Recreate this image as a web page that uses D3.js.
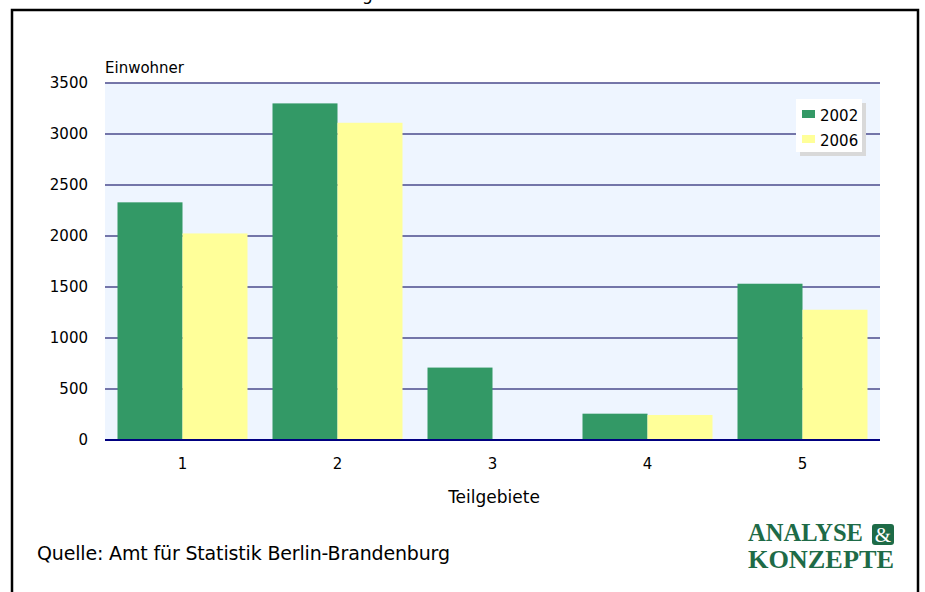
<!DOCTYPE html>
<html><head><meta charset="utf-8">
<script src="https://cdn.jsdelivr.net/npm/d3@7"></script>
<style>
html,body{margin:0;padding:0;background:#fff;}
svg{display:block;}
</style></head>
<body>
<svg id="chart" width="925" height="592"></svg>
<script>
const categories = ["1","2","3","4","5"];
const seriesNames = ["2002","2006"];
const values2002 = [2330, 3300, 710, 258, 1532];
const values2006 = [2025, 3110, 0, 245, 1277];
const yTicks = [0,500,1000,1500,2000,2500,3000,3500];
const colors = ["#339966","#ffff99"];

const FONT = "'DejaVu Sans',Verdana,sans-serif";
const svg = d3.select("#chart").style("font-family", FONT);
const m = {left:105, right:880, top:83, bottom:440};

// outer frame
svg.append("path").attr("d","M12,600 V10 H918 V600")
  .attr("fill","none").attr("stroke","#000").attr("stroke-width",2.5);

// cut-off title fragment
svg.append("text").attr("x",362).attr("y",0).style("font-size","17px").attr("fill","#000").text("g");

const x = d3.scaleBand().domain(categories).range([m.left,m.right]).paddingInner(25/155).paddingOuter(12.5/155);
const xs = d3.scaleBand().domain(seriesNames).range([0,x.bandwidth()]);
const y = d3.scaleLinear().domain([0,3500]).range([m.bottom,m.top]);

svg.append("rect").attr("x",m.left).attr("y",m.top).attr("width",m.right-m.left).attr("height",m.bottom-m.top).attr("fill","#eef5ff");

// gridlines
svg.append("g").selectAll("line").data(yTicks.filter(d=>d>0)).join("line")
  .attr("x1",m.left).attr("x2",m.right).attr("y1",d=>y(d)).attr("y2",d=>y(d))
  .attr("stroke","#4a4a8c").attr("stroke-width",1.6);

// bars
const data = categories.map((c,i)=>({c, v:[values2002[i], values2006[i]]}));
const grp = svg.append("g").selectAll("g").data(data).join("g")
  .attr("transform",d=>`translate(${x(d.c)},0)`);
grp.selectAll("rect").data(d=>d.v.map((v,j)=>({v,s:seriesNames[j],j}))).join("rect")
  .attr("x",d=>xs(d.s)).attr("width",xs.bandwidth())
  .attr("y",d=>y(d.v)).attr("height",d=>Math.max(0,y(0)-1-y(d.v)))
  .attr("fill",d=>colors[d.j]);

// zero axis line
svg.append("line").attr("x1",m.left).attr("x2",m.right).attr("y1",y(0)).attr("y2",y(0))
  .attr("stroke","#000080").attr("stroke-width",2);

// y axis labels
const yAxis = d3.axisLeft(y).tickValues(yTicks).tickFormat(d3.format("d")).tickSize(0).tickPadding(17);
const gy = svg.append("g").attr("transform",`translate(${m.left},0)`).call(yAxis);
gy.select(".domain").remove();
gy.selectAll("text").style("font-size","15px").style("font-family",FONT).attr("fill","#000");

// x axis labels
const xAxis = d3.axisBottom(x).tickSize(0).tickPadding(18);
const gx = svg.append("g").attr("transform",`translate(0,${m.bottom})`).call(xAxis);
gx.select(".domain").remove();
gx.selectAll("text").style("font-size","15px").style("font-family",FONT).attr("fill","#000");

svg.append("text").attr("x",105).attr("y",73).style("font-size","15px").text("Einwohner");
svg.append("text").attr("x",494).attr("y",503).attr("text-anchor","middle").style("font-size","17px").text("Teilgebiete");
svg.append("text").attr("x",37).attr("y",560).style("font-size","19px").attr("textLength",413).text("Quelle: Amt für Statistik Berlin-Brandenburg");

// legend
const lg = svg.append("g").attr("transform","translate(796,99)");
lg.append("rect").attr("x",4).attr("y",4).attr("width",66).attr("height",53).attr("fill","#d9d9d9");
lg.append("rect").attr("x",0).attr("y",0).attr("width",66).attr("height",53).attr("fill","#fff");
const li = lg.selectAll("g.item").data(seriesNames).join("g").attr("class","item")
  .attr("transform",(d,i)=>`translate(6,${12+i*25})`);
li.append("rect").attr("width",13).attr("height",8).attr("y",-1).attr("fill",(d,i)=>colors[i]);
li.append("text").attr("x",18).attr("y",10).style("font-size","15px").text(d=>d);

// logo
const logoColor = "#1e6b47";
const SERIF = "'Liberation Serif','Times New Roman',serif";
const lgo = svg.append("g");
lgo.append("text").attr("x",748).attr("y",541).style("font-family",SERIF).style("font-weight","bold")
  .style("font-size","26px").attr("fill",logoColor).attr("textLength",115).attr("lengthAdjust","spacingAndGlyphs").text("ANALYSE");
lgo.append("rect").attr("x",872).attr("y",524).attr("width",22).attr("height",21).attr("rx",3).attr("fill",logoColor);
lgo.append("text").attr("x",883).attr("y",542).attr("text-anchor","middle").style("font-family",SERIF)
  .style("font-size","21px").attr("fill","#fff").text("&");
lgo.append("text").attr("x",748).attr("y",568).style("font-family",SERIF).style("font-weight","bold")
  .style("font-size","26px").attr("fill",logoColor).attr("textLength",146).attr("lengthAdjust","spacingAndGlyphs").text("KONZEPTE");
</script>
</body></html>
